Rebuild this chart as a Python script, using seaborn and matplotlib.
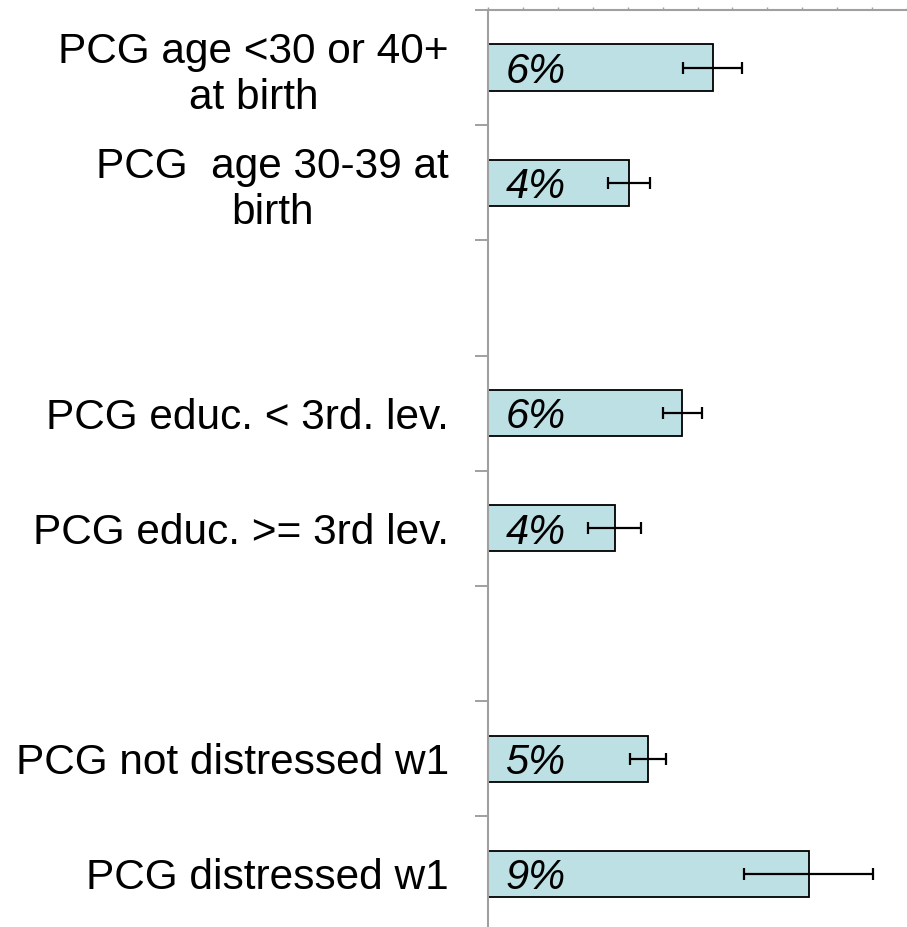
import matplotlib
matplotlib.use("Agg")
import matplotlib.pyplot as plt
import seaborn as sns
import pandas as pd
import numpy as np
from matplotlib.ticker import MultipleLocator, FixedLocator, NullFormatter

categories = ["PCG age <30 or 40+\nat birth", "PCG  age 30-39 at\nbirth",
              "PCG educ. < 3rd. lev.", "PCG educ. >= 3rd lev.",
              "PCG not distressed w1", "PCG distressed w1"]
values = [0.0643, 0.0403, 0.0557, 0.0363, 0.0459, 0.0918]
errors = [0.0085, 0.0060, 0.0056, 0.0076, 0.0052, 0.0185]
bar_labels = ["6%", "4%", "6%", "4%", "5%", "9%"]
order = [categories[0], categories[1], " ", categories[2], categories[3], "  ",
         categories[4], categories[5]]

sns.set_style("white")
plt.rcParams["font.family"] = ["Liberation Sans", "DejaVu Sans"]
plt.rcParams["text.color"] = "black"
plt.rcParams["ytick.labelcolor"] = "black"

df = pd.DataFrame({"cat": categories, "val": values, "err": errors, "lab": bar_labels})

fig = plt.figure(figsize=(9.07, 9.27), dpi=100)
ax = fig.add_axes([488 / 907, 1 - 931.5 / 927, 419 / 907, 921.6 / 927])

sns.barplot(data=df, x="val", y="cat", order=order, orient="h", color="#bce0e3",
            saturation=1, width=0.4, edgecolor="black", linewidth=1.3,
            errorbar=None, ax=ax)

pos = [order.index(c) for c in categories]
ax.errorbar(df["val"], pos, xerr=df["err"], fmt="none", ecolor="black",
            elinewidth=1.6, capsize=4.5, capthick=1.6, zorder=5)

for p, v, lab in zip(pos, values, bar_labels):
    ax.annotate(lab, xy=(0, p), xytext=(12.5, -11), textcoords="offset points",
                ha="left", va="baseline", fontsize=30, fontstyle="italic", color="black")

ax.set_xlim(0, 0.12)
ax.set_ylim(7.5, -0.5)
ax.set_xlabel("")
ax.set_ylabel("")

# y axis: labels at centers, ticks at boundaries
ax.yaxis.set_major_locator(FixedLocator(range(len(order))))
ax.set_yticklabels(order, fontsize=30.5, multialignment="center", color="black")
ax.yaxis.set_minor_locator(FixedLocator(np.arange(-0.5, 8.0, 1.0)))
ax.tick_params(axis="y", which="major", length=0, pad=28, left=True)
ax.tick_params(axis="y", which="minor", length=9.5, width=1.4, color="#a0a0a0",
               direction="out", left=True)

# x axis on top, small ticks, no labels
ax.xaxis.tick_top()
ax.xaxis.set_major_locator(MultipleLocator(0.01))
ax.xaxis.set_major_formatter(NullFormatter())
ax.tick_params(axis="x", which="major", length=2, width=1.0, color="#a0a0a0",
               direction="out", top=True, bottom=False)

for s in ["right", "bottom"]:
    ax.spines[s].set_visible(False)
for s in ["left", "top"]:
    ax.spines[s].set_color("#a0a0a0")
    ax.spines[s].set_linewidth(1.5)

fig.savefig("out.png", dpi=100)
